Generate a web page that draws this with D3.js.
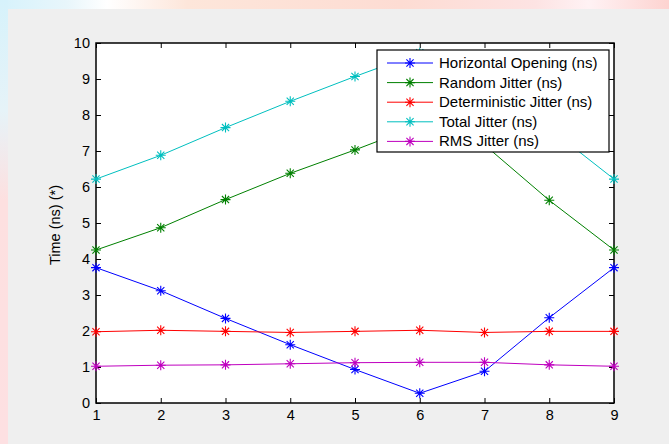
<!DOCTYPE html>
<html>
<head>
<meta charset="utf-8">
<script src="https://cdn.jsdelivr.net/npm/d3@7"></script>
<style>
  body { margin: 0; background: #efefef; }
  svg { display: block; font-family: "Liberation Sans", Arial, sans-serif; }
</style>
</head>
<body>
<div id="chart"></div>
<script>
// data
var xs = [1, 2, 3, 4, 5, 6, 7, 8, 9];
var horizontalOpening = [3.76, 3.12, 2.35, 1.62, 0.93, 0.27, 0.88, 2.37, 3.76];
var randomJitter = [4.25, 4.87, 5.65, 6.38, 7.03, 7.72, 7.17, 5.63, 4.25];
var deterministicJitter = [1.98, 2.02, 1.99, 1.96, 1.99, 2.02, 1.96, 1.99, 1.99];
var totalJitter = [6.22, 6.88, 7.65, 8.38, 9.07, 9.73, 9.12, 7.63, 6.22];
var rmsJitter = [1.02, 1.05, 1.06, 1.09, 1.12, 1.13, 1.13, 1.06, 1.02];
var seriesNames = ["Horizontal Opening (ns)", "Random Jitter (ns)", "Deterministic Jitter (ns)", "Total Jitter (ns)", "RMS Jitter (ns)"];
var seriesColors = ["#0000ff", "#008000", "#ff0000", "#00bfbf", "#bf00bf"];
var xTicks = [1, 2, 3, 4, 5, 6, 7, 8, 9];
var yTicks = [0, 1, 2, 3, 4, 5, 6, 7, 8, 9, 10];

var series = [horizontalOpening, randomJitter, deterministicJitter, totalJitter, rmsJitter];

var width = 669, height = 444;
var margin = { left: 96, right: 55, top: 43, bottom: 41 };

var svg = d3.select("#chart").append("svg")
  .attr("width", width)
  .attr("height", height);

// washed-out backdrop strips on the top and left
var defs = svg.append("defs");
var gTop = defs.append("linearGradient").attr("id", "topband");
[["0%", "#d6f2fb"], ["10%", "#e8f6fb"], ["16%", "#ffffff"], ["28%", "#fde6da"], ["60%", "#fddcd3"],
 ["80%", "#fde3e3"], ["88%", "#fff2f4"], ["100%", "#fdd3d0"]].forEach(function (s) {
  gTop.append("stop").attr("offset", s[0]).attr("stop-color", s[1]);
});
var gLeft = defs.append("linearGradient").attr("id", "leftband")
  .attr("x1", 0).attr("y1", 0).attr("x2", 0).attr("y2", 1);
[["0%", "#d6f2fb"], ["25%", "#e6f3f8"], ["45%", "#fde0e0"], ["100%", "#fde0e2"]].forEach(function (s) {
  gLeft.append("stop").attr("offset", s[0]).attr("stop-color", s[1]);
});
svg.append("rect").attr("width", width).attr("height", height).attr("fill", "#efefef");
svg.append("rect").attr("width", width).attr("height", 9).attr("fill", "url(#topband)");
svg.append("rect").attr("width", 8).attr("height", height).attr("fill", "url(#leftband)");

var x = d3.scaleLinear().domain([1, 9]).range([margin.left, width - margin.right]);
var y = d3.scaleLinear().domain([0, 10]).range([height - margin.bottom, margin.top]);

// plot area
svg.append("rect")
  .attr("x", x(1)).attr("y", y(10))
  .attr("width", x(9) - x(1)).attr("height", y(0) - y(10))
  .attr("fill", "#fff");

// axes (MATLAB style: ticks inside, on all four sides)
function styleAxis(g) {
  g.selectAll("text").attr("font-size", 14.5).attr("fill", "#000")
    .attr("font-family", "'Liberation Sans', Arial, sans-serif");
  g.selectAll("line").attr("stroke", "#000");
  g.select(".domain").remove();
}
svg.append("g").attr("transform", "translate(0," + y(0) + ")")
  .call(d3.axisBottom(x).tickValues(xTicks).tickFormat(d3.format("d")).tickSize(-5).tickPadding(7))
  .call(styleAxis);
svg.append("g").attr("transform", "translate(0," + y(10) + ")")
  .call(d3.axisTop(x).tickValues(xTicks).tickFormat("").tickSize(-5))
  .call(styleAxis);
svg.append("g").attr("transform", "translate(" + x(1) + ",0)")
  .call(d3.axisLeft(y).tickValues(yTicks).tickFormat(d3.format("d")).tickSize(-5).tickPadding(6))
  .call(styleAxis);
svg.append("g").attr("transform", "translate(" + x(9) + ",0)")
  .call(d3.axisRight(y).tickValues(yTicks).tickFormat("").tickSize(-5))
  .call(styleAxis);

svg.append("rect")
  .attr("x", x(1)).attr("y", y(10))
  .attr("width", x(9) - x(1)).attr("height", y(0) - y(10))
  .attr("fill", "none").attr("stroke", "#000").attr("stroke-width", 1.5);

svg.append("text")
  .attr("transform", "translate(60," + (y(5) + 2) + ") rotate(-90)")
  .attr("text-anchor", "middle")
  .attr("font-size", 14.5)
  .text("Time (ns) (*)");

// asterisk marker
function star(g, cx, cy, color) {
  var r = 5, d = r * 0.72;
  var p = "M" + (cx - r) + "," + cy + "H" + (cx + r) +
    "M" + cx + "," + (cy - r) + "V" + (cy + r) +
    "M" + (cx - d) + "," + (cy - d) + "L" + (cx + d) + "," + (cy + d) +
    "M" + (cx - d) + "," + (cy + d) + "L" + (cx + d) + "," + (cy - d);
  g.append("path").attr("d", p).attr("stroke", color).attr("stroke-width", 1.1).attr("fill", "none");
}

var line = d3.line().x(function (d, i) { return x(xs[i]); }).y(function (d) { return y(d); });

series.forEach(function (vals, k) {
  var g = svg.append("g");
  g.append("path").datum(vals)
    .attr("d", line)
    .attr("fill", "none")
    .attr("stroke", seriesColors[k])
    .attr("stroke-width", 1);
  vals.forEach(function (v, i) { star(g, x(xs[i]), y(v), seriesColors[k]); });
});

// legend
var lg = svg.append("g");
lg.append("rect")
  .attr("x", 377).attr("y", 50).attr("width", 232).attr("height", 102)
  .attr("fill", "#fff").attr("stroke", "#000").attr("stroke-width", 1.2);
seriesNames.forEach(function (name, k) {
  var ly = 63 + k * 19.6;
  lg.append("line").attr("x1", 387).attr("x2", 433).attr("y1", ly).attr("y2", ly)
    .attr("stroke", seriesColors[k]).attr("stroke-width", 1);
  star(lg, 410, ly, seriesColors[k]);
  lg.append("text").attr("x", 439).attr("y", ly + 5)
    .attr("font-size", 15).text(name);
});
</script>
</body>
</html>
